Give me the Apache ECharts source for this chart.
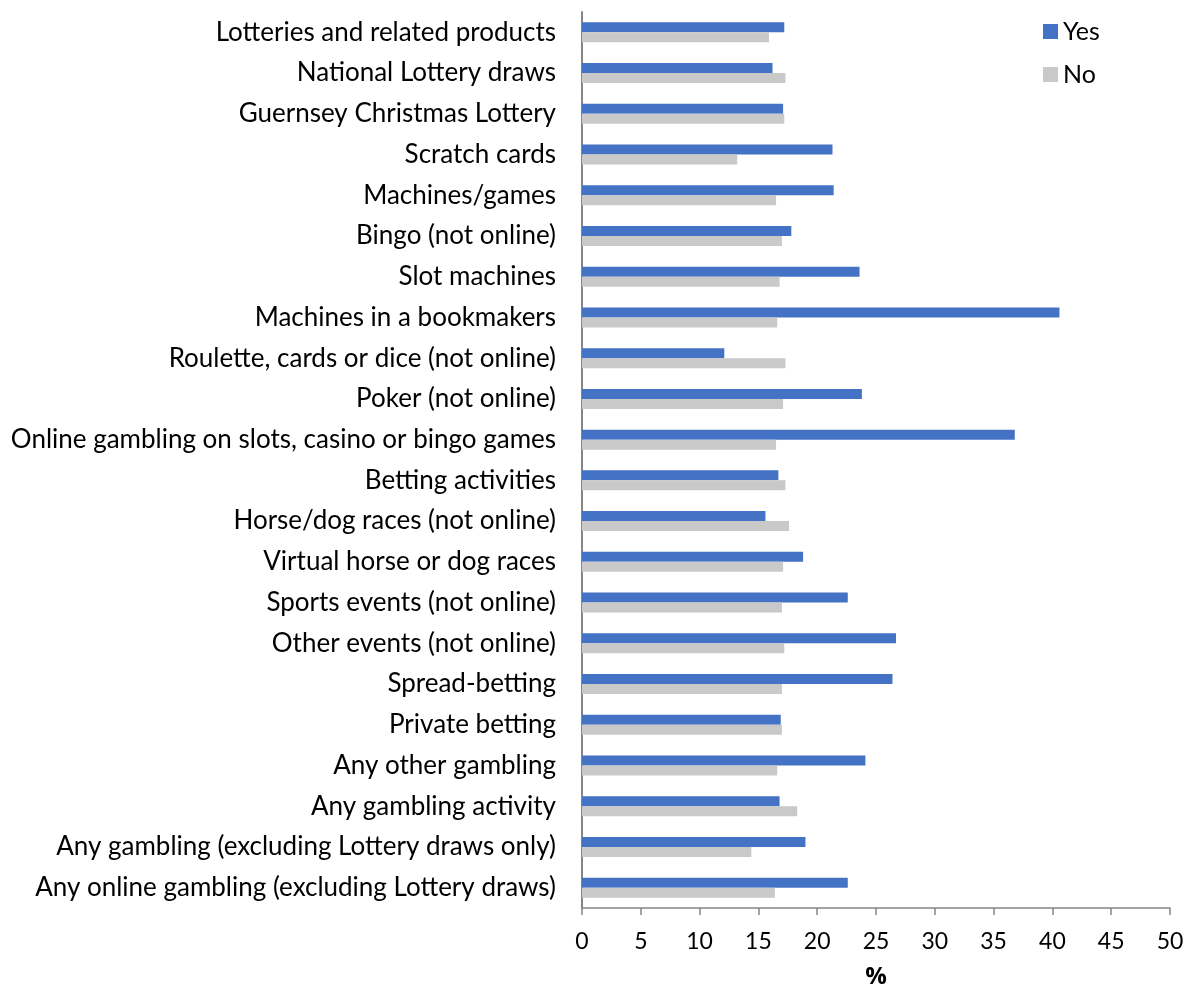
<!DOCTYPE html>
<html>
<head>
<meta charset="utf-8">
<script src="https://cdn.jsdelivr.net/npm/echarts@6/dist/echarts.min.js"></script>
<style>
  html, body { margin: 0; padding: 0; background: #fff; }
  #chart { width: 1192px; height: 988px; }
</style>
</head>
<body>
<div id="chart"></div>
<script>
// Gambling activity categories (top to bottom)
const categories = [
  'Lotteries and related products',
  'National Lottery draws',
  'Guernsey Christmas Lottery',
  'Scratch cards',
  'Machines/games',
  'Bingo (not online)',
  'Slot machines',
  'Machines in a bookmakers',
  'Roulette, cards or dice (not online)',
  'Poker (not online)',
  'Online gambling on slots, casino or bingo games',
  'Betting activities',
  'Horse/dog races (not online)',
  'Virtual horse or dog races',
  'Sports events (not online)',
  'Other events (not online)',
  'Spread-betting',
  'Private betting',
  'Any other gambling',
  'Any gambling activity',
  'Any gambling (excluding Lottery draws only)',
  'Any online gambling (excluding Lottery draws)'
];

// Percentages for each group
const yesValues = [17.2, 16.2, 17.1, 21.3, 21.4, 17.8, 23.6, 40.6, 12.1, 23.8, 36.8,
                   16.7, 15.6, 18.8, 22.6, 26.7, 26.4, 16.9, 24.1, 16.8, 19.0, 22.6];
const noValues  = [15.9, 17.3, 17.2, 13.2, 16.5, 17.0, 16.8, 16.6, 17.3, 17.1, 16.5,
                   17.3, 17.6, 17.1, 17.0, 17.2, 17.0, 17.0, 16.6, 18.3, 14.4, 16.4];

const seriesNames = ['Yes', 'No'];
const xTicks = { min: 0, max: 50, interval: 5 };

const font = 'Lato, "Open Sans", "Noto Sans", sans-serif';

const chart = echarts.init(document.getElementById('chart'), null, { renderer: 'canvas' });
chart.setOption({
  animation: false,
  backgroundColor: '#ffffff',
  textStyle: { fontFamily: font },
  legend: {
    orient: 'vertical',
    left: 1038,
    top: 14,
    itemWidth: 15,
    itemHeight: 15,
    itemGap: 18,
    icon: 'rect',
    textStyle: { fontSize: 25, color: '#000', fontFamily: font },
    data: seriesNames
  },
  grid: {
    left: 582, right: 22, top: 12, bottom: 80,
    containLabel: false,
    outerBoundsMode: 'none'
  },
  xAxis: {
    type: 'value',
    min: xTicks.min, max: xTicks.max, interval: xTicks.interval,
    name: '%',
    nameLocation: 'middle',
    nameGap: 57,
    nameTextStyle: {
      fontSize: 24, fontWeight: 'bold', color: '#000',
      fontFamily: '"Open Sans", "Noto Sans", sans-serif'
    },
    axisLine: { show: true, lineStyle: { color: '#868686', width: 1.5 } },
    axisTick: { show: true, length: 7, lineStyle: { color: '#868686', width: 1.5 } },
    axisLabel: { fontSize: 23, color: '#000', margin: 22, fontFamily: font },
    splitLine: { show: false }
  },
  yAxis: {
    type: 'category',
    inverse: true,
    data: categories,
    axisLine: { show: true, lineStyle: { color: '#868686', width: 2 } },
    axisTick: { show: false },
    axisLabel: {
      fontSize: 26, color: '#000', margin: 26, fontFamily: font,
      padding: [5, 0, 0, 0]
    }
  },
  series: [
    {
      name: seriesNames[0],
      type: 'bar',
      data: yesValues,
      barWidth: 10,
      barGap: '0%',
      itemStyle: { color: '#4472C4' }
    },
    {
      name: seriesNames[1],
      type: 'bar',
      data: noValues,
      barWidth: 10,
      barGap: '0%',
      itemStyle: { color: '#C9C9C9' }
    }
  ]
});
</script>
</body>
</html>
